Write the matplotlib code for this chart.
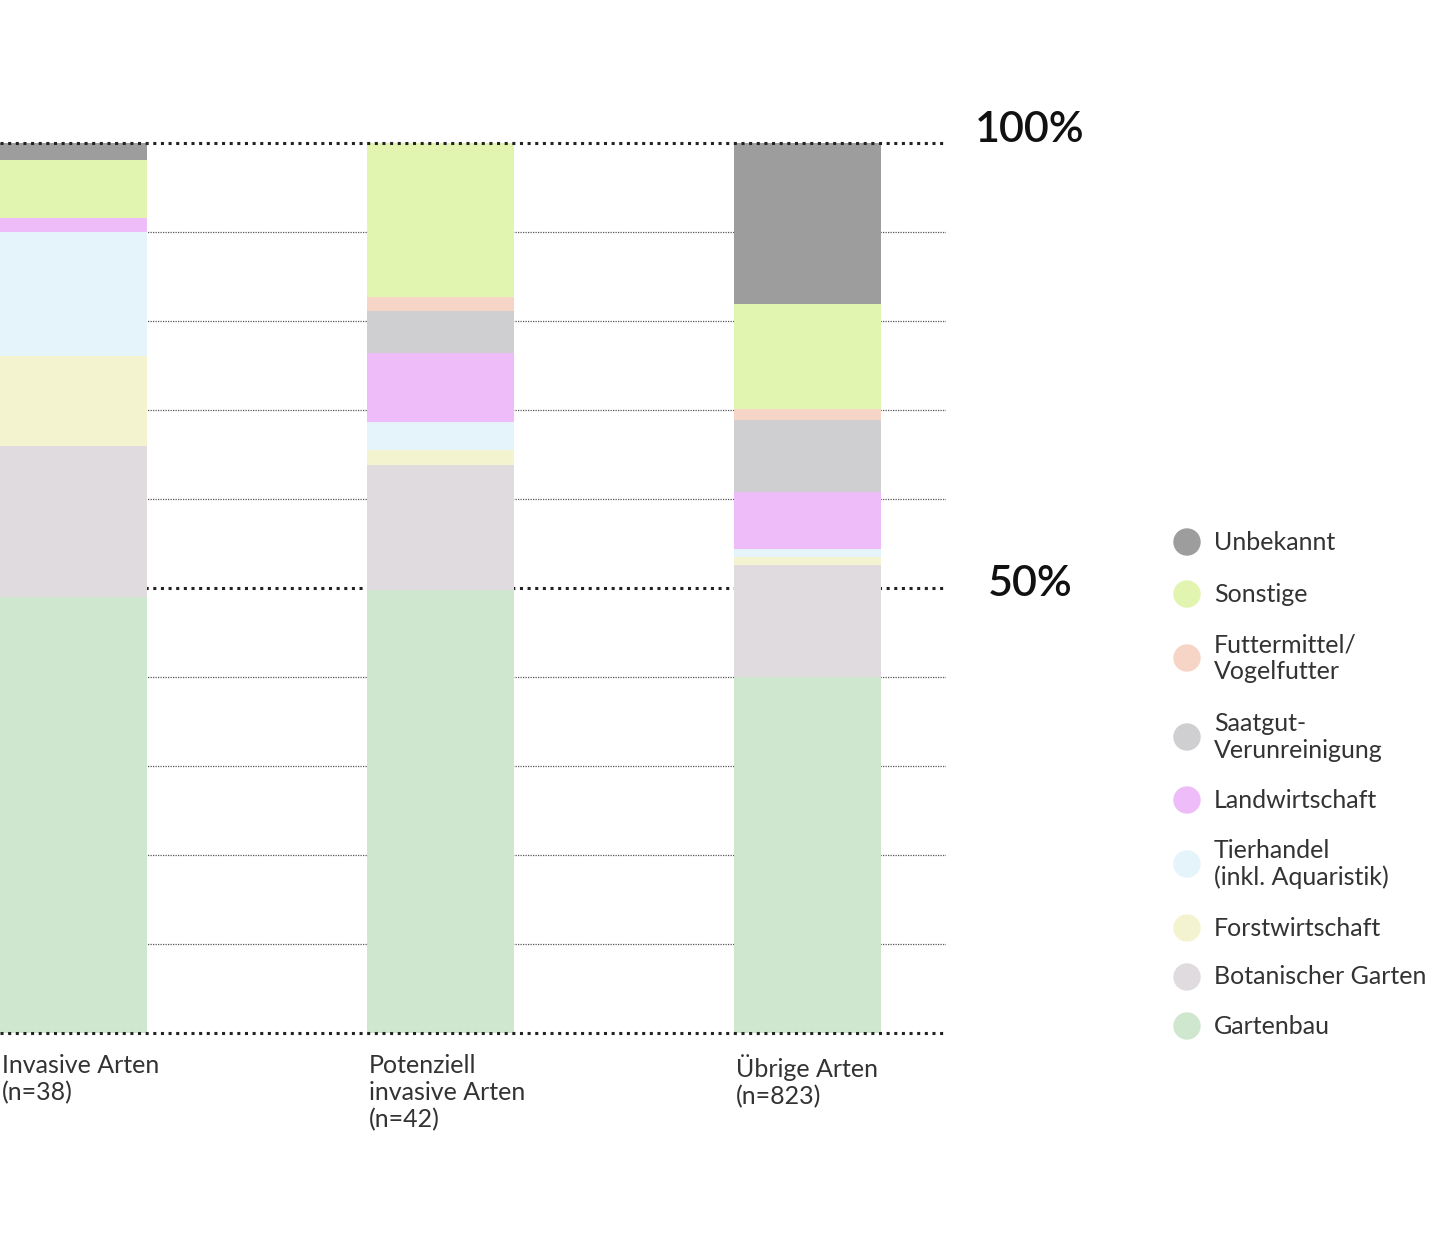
import matplotlib
matplotlib.use("Agg")
import matplotlib.pyplot as plt
import numpy as np

categories = ["Invasive Arten\n(n=38)", "Potenziell\ninvasive Arten\n(n=42)", "Übrige Arten\n(n=823)"]
series_names = ["Gartenbau", "Botanischer Garten", "Forstwirtschaft", "Tierhandel\n(inkl. Aquaristik)",
                "Landwirtschaft", "Saatgut-\nVerunreinigung", "Futtermittel/\nVogelfutter", "Sonstige", "Unbekannt"]
gartenbau = [49.0, 49.8, 40.0]
botanisch = [17.0, 14.0, 12.6]
forst = [10.1, 1.7, 0.9]
tierhandel = [13.9, 3.2, 0.9]
landwirtschaft = [1.6, 7.7, 6.4]
saatgut = [0.0, 4.7, 8.1]
futter = [0.0, 1.6, 1.2]
sonstige = [6.5, 17.3, 11.8]
unbekannt = [1.9, 0.0, 18.1]
series = [gartenbau, botanisch, forst, tierhandel, landwirtschaft, saatgut, futter, sonstige, unbekannt]
colors = ["#d0e7cf", "#e0dbdf", "#f3f4cf", "#e5f3fb", "#eebcf9", "#cfcfd1", "#f6d5c6", "#e1f5b0", "#9e9d9e"]

plt.rcParams["font.family"] = "Lato"
fig = plt.figure(figsize=(14.33, 12.48), dpi=100)
ax = fig.add_axes([0, 1 - 1033/1248, 946/1433, 890/1248])
x = np.arange(len(categories))
bottom = np.zeros(len(categories))
for vals, c in zip(series, colors):
    ax.bar(x, vals, width=0.4, bottom=bottom, color=c, zorder=2)
    bottom += np.array(vals)
ax.set_xlim(-0.2, 2.376)
ax.set_ylim(0, 100)
for v in range(0, 101, 10):
    if v in (0, 50, 100):
        ax.axhline(v, color="#222", lw=2.2, ls=(0, (1, 1.5)), zorder=3 if v != 50 else 1, clip_on=False)
    else:
        ax.axhline(v, color="#555", lw=0.9, ls=(0, (1, 1)), zorder=1)
ax.axis("off")
txt = "#333333"
ax.text((1030-74)/367, 101.5, "100%", fontsize=31, color="#111", ha="center", va="center", fontweight="semibold")
ax.text((1030-74)/367, 50.5, "50%", fontsize=31, color="#111", ha="center", va="center", fontweight="semibold")
for xi, lab in zip(x, categories):
    ax.text(xi - 0.195, -2.4, lab, fontsize=18, color=txt, ha="left", va="top", linespacing=1.2)

# legend
leg_y = [542, 594, 658, 737, 800, 864, 928, 977, 1026]
for name, c, yp in zip(series_names[::-1], colors[::-1], leg_y):
    fy = 1 - yp/1248
    fig.patches.append(matplotlib.patches.Ellipse((1187/1433, fy), 26/1433, 26/1248,
                                                  transform=fig.transFigure, color=c))
    fig.text(1214/1433, fy, name, fontsize=18, color=txt, va="center", ha="left", linespacing=1.2)
fig.savefig("out.png", dpi=100)
